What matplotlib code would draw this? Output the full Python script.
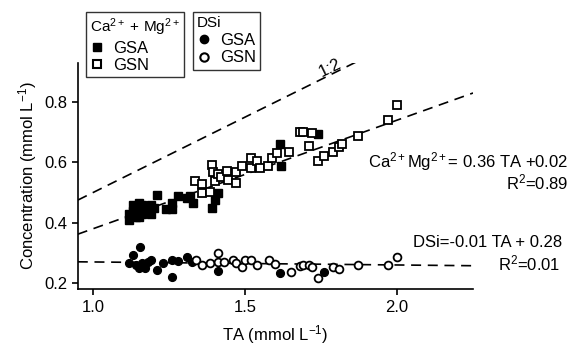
import numpy as np
import matplotlib
matplotlib.use("Agg")
from matplotlib import pyplot as plt
from matplotlib.lines import Line2D

plt.rcParams['font.family'] = ['Liberation Sans', 'DejaVu Sans']
plt.rcParams['mathtext.fontset'] = 'custom'
plt.rcParams['mathtext.rm'] = 'Liberation Sans'
plt.rcParams['mathtext.it'] = 'Liberation Sans:italic'

# Ca2+ + Mg2+ , GSA (filled squares)
ca_gsa_ta = [1.12, 1.13, 1.14, 1.15, 1.16, 1.17, 1.18, 1.19, 1.12, 1.14, 1.16, 1.18,
             1.13, 1.15, 1.17, 1.19, 1.20, 1.21, 1.28, 1.24, 1.26, 1.26, 1.31, 1.33,
             1.32, 1.39, 1.40, 1.41, 1.62, 1.615, 1.74]
ca_gsa_y = [0.43, 0.44, 0.45, 0.42, 0.46, 0.44, 0.45, 0.43, 0.41, 0.42, 0.43, 0.44,
            0.46, 0.465, 0.455, 0.46, 0.45, 0.493, 0.49, 0.447, 0.447, 0.467, 0.483, 0.467,
            0.49, 0.45, 0.477, 0.50, 0.587, 0.66, 0.693]

# Ca2+ + Mg2+ , GSN (open squares)
ca_gsn_ta = [1.335, 1.36, 1.36, 1.385, 1.39, 1.395, 1.40, 1.41, 1.42, 1.44, 1.445, 1.47,
             1.47, 1.49, 1.52, 1.52, 1.54, 1.55, 1.575, 1.59, 1.605, 1.645, 1.68, 1.69,
             1.72, 1.71, 1.74, 1.76, 1.79, 1.81, 1.82, 1.87, 1.97, 2.0]
ca_gsn_y = [0.537, 0.527, 0.50, 0.503, 0.593, 0.567, 0.537, 0.56, 0.553, 0.57, 0.543, 0.567,
            0.533, 0.587, 0.613, 0.58, 0.603, 0.58, 0.587, 0.613, 0.63, 0.633, 0.70, 0.70,
            0.697, 0.653, 0.603, 0.62, 0.633, 0.65, 0.66, 0.687, 0.74, 0.79]

# DSi , GSA (filled circles)
dsi_gsa_ta = [1.155, 1.13, 1.12, 1.14, 1.16, 1.18, 1.15, 1.17, 1.21, 1.23, 1.26, 1.26,
              1.28, 1.31, 1.325, 1.19, 1.41, 1.615, 1.76]
dsi_gsa_y = [0.32, 0.293, 0.267, 0.26, 0.267, 0.27, 0.25, 0.25, 0.243, 0.267, 0.22, 0.277,
             0.273, 0.287, 0.27, 0.277, 0.24, 0.235, 0.237]

# DSi , GSN (open circles)
dsi_gsn_ta = [1.34, 1.36, 1.385, 1.41, 1.41, 1.43, 1.46, 1.47, 1.49, 1.50, 1.52, 1.54,
              1.58, 1.60, 1.65, 1.68, 1.69, 1.71, 1.72, 1.74, 1.79, 1.81, 1.87, 1.97, 2.0]
dsi_gsn_y = [0.277, 0.26, 0.267, 0.30, 0.27, 0.27, 0.277, 0.267, 0.253, 0.277, 0.277, 0.26,
             0.277, 0.263, 0.237, 0.257, 0.26, 0.26, 0.253, 0.217, 0.253, 0.247, 0.26, 0.26, 0.287]

# dashed reference / regression lines
ta_line = np.array([0.95, 2.25])
one_two = 0.5 * ta_line
ca_fit = 0.36 * ta_line + 0.02
dsi_fit = -0.01 * ta_line + 0.28

fig = plt.figure(figsize=(5.72, 3.53), dpi=100)
ax = fig.add_axes([0.136, 0.181, 0.691, 0.641])

dash = dict(color='black', lw=1.2, ls=(0, (6, 4)))
ax.plot(ta_line, one_two, **dash)
ax.plot(ta_line, ca_fit, **dash)
ax.plot(ta_line, dsi_fit, **dash)

ms = 5.6
ax.plot(ca_gsa_ta, ca_gsa_y, 's', color='black', ms=ms, mec='black')
ax.plot(ca_gsn_ta, ca_gsn_y, 's', mfc='white', mec='black', mew=1.3, ms=ms)
ax.plot(dsi_gsa_ta, dsi_gsa_y, 'o', color='black', ms=ms)
ax.plot(dsi_gsn_ta, dsi_gsn_y, 'o', mfc='white', mec='black', mew=1.3, ms=ms)

ax.set_xlim(0.95, 2.25)
ax.set_ylim(0.18, 0.93)
ax.set_xticks([1.0, 1.5, 2.0])
ax.set_yticks([0.2, 0.4, 0.6, 0.8])
ax.xaxis.set_major_formatter(plt.FormatStrFormatter('%.1f'))
ax.yaxis.set_major_formatter(plt.FormatStrFormatter('%.1f'))
for s in ['top', 'right']:
    ax.spines[s].set_visible(False)
for s in ['left', 'bottom']:
    ax.spines[s].set_linewidth(1.2)
ax.tick_params(direction='out', length=4, width=1.2, labelsize=12)
ax.set_xlabel('TA (mmol L$^{-1}$)', fontsize=12, labelpad=6)
ax.set_ylabel('Concentration (mmol L$^{-1}$)', fontsize=12, labelpad=4)

ax.text(1.78, 0.912, '1:2', fontsize=12, rotation=26, ha='center', va='center',
        clip_on=False)
fig.text(0.993, 0.541, 'Ca$^{2+}$Mg$^{2+}$= 0.36 TA +0.02', fontsize=12, ha='right', va='center')
fig.text(0.993, 0.483, 'R$^{2}$=0.89', fontsize=12, ha='right', va='center')
fig.text(0.983, 0.312, 'DSi=-0.01 TA + 0.28', fontsize=12, ha='right', va='center')
fig.text(0.980, 0.255, 'R$^{2}$=0.01', fontsize=12, ha='right', va='center')

h_ca = [Line2D([], [], ls='none', marker='s', color='black', ms=6),
        Line2D([], [], ls='none', marker='s', mfc='white', mec='black', mew=1.5, ms=6)]
h_dsi = [Line2D([], [], ls='none', marker='o', color='black', ms=6),
         Line2D([], [], ls='none', marker='o', mfc='white', mec='black', mew=1.5, ms=6)]

leg_kw = dict(fontsize=12, title_fontsize=11, frameon=True, fancybox=False,
              handlelength=0.8, handletextpad=0.6, borderpad=0.25, labelspacing=0.15,
              borderaxespad=0, alignment='left')
leg1 = fig.legend(h_ca, ['GSA', 'GSN'], title='Ca$^{2+}$ + Mg$^{2+}$',
                  loc='upper left', bbox_to_anchor=(0.150, 0.966), **leg_kw)
leg2 = fig.legend(h_dsi, ['GSA', 'GSN'], title='DSi',
                  loc='upper left', bbox_to_anchor=(0.337, 0.966), **leg_kw)
for lg in (leg1, leg2):
    lg.get_frame().set_edgecolor('black')
    lg.get_frame().set_linewidth(1.0)
    lg.get_frame().set_boxstyle('square', pad=0)
    lg._legend_box.sep = 2

fig.savefig('out.png', dpi=100)
